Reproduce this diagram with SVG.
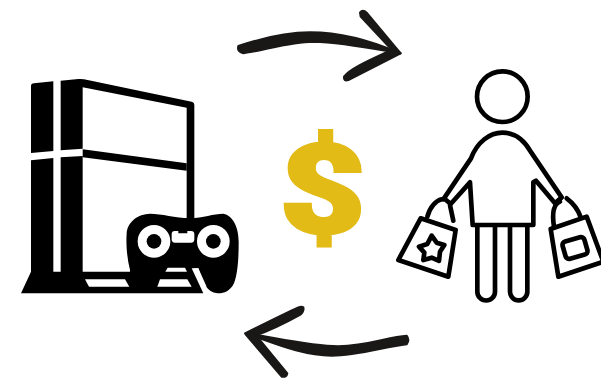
<svg xmlns="http://www.w3.org/2000/svg" width="601" height="378" viewBox="0 0 601 378">
<style>
.k{fill:#000}.w{fill:#fff}
.ln{fill:none;stroke:#000;stroke-width:14;stroke-linecap:round;stroke-linejoin:round}
.brush{fill:#1a1717;stroke:#1a1717;stroke-width:6;stroke-linejoin:round}
.money{font-family:"Roboto","Liberation Sans",sans-serif;font-weight:900;font-size:124px;fill:#e3bb17;stroke:#e3bb17;stroke-width:3;text-anchor:middle}
</style>
<rect width="601" height="378" fill="#fff"/>
<g id="console" transform="translate(10,70) scale(.33333)">
<path class="k" d="M72,40L130,34V243L63,249V48Q63,41 72,40Z"/>
<path class="k" d="M152,32L205,27Q212,26 222,28L545,95Q553,97 553,104V445H530V113L218,52V236L152,241Z"/>
<path class="k" d="M218,238L530,280V302L218,262Z"/>
<path class="k" d="M63,271L130,264V605H152V262L218,258V605H360V670H33L63,605Z"/>
<path class="k" d="M350,490C352,455 385,432 420,431C455,431 495,444 540,444C580,444 610,431 640,431C668,436 686,470 686,515C686,560 684,610 672,640C660,665 640,671 622,670C590,666 580,640 565,595H545L580,670H360V600C350,560 348,520 350,490Z"/>
<circle class="w" cx="432" cy="514" r="49"/><circle class="k" cx="432" cy="514" r="22"/>
<circle class="w" cx="610" cy="514" r="49"/><circle class="k" cx="610" cy="514" r="22"/>
<path class="w" d="M494,483H505V490H532V483H543Q553,483 553,493V508Q553,518 543,518H495Q485,518 485,508V493Q485,483 494,483Z"/>
<path class="w" d="M473,593H525L531,605H466Z"/>
<path class="w" d="M225,628H345L358,650H237Z"/>
<path class="w" d="M450,628H532L545,650H442Z"/>
<path class="w" d="M552,595H565L590,650L577,648Z"/>
</g>
<g id="shopper" transform="translate(390,60) scale(.33333)">
<circle class="ln" cx="337" cy="110" r="76"/>
<path class="ln" d="M160,418L243,295C262,245 300,218 337,218C375,218 402,240 422,275L515,412"/>
<path class="ln" d="M168,420L182,432L240,367L248,495H430V367L438,362L495,430L512,415"/>
<path class="ln" d="M262,500V695A26.500,26.500 0 0 0 315,695V500M360,500V695A26,26 0 0 0 412,695V500"/>
<path class="ln" d="M112,470C120,440 138,422 155,418M190,482L180,436"/>
<path class="ln" d="M92,475L197,510L175,650L25,600Z"/>
<path class="ln" d="M125,527L140,548L163,555L150,575L147,603L125,593L100,600L103,578L87,560L112,552Z"/>
<path class="ln" d="M492,500C485,455 492,432 510,425M530,415C550,430 565,450 572,472"/>
<path class="ln" d="M482,507L590,470L640,605L505,650Z"/>
<rect class="ln" x="521" y="537" width="68" height="54" rx="11" transform="rotate(-16 555 564)"/>
</g>
<g id="dollar"><text class="money" transform="translate(322.500,233) scale(1.2,1)">$</text></g>
<g id="connectors">
<g transform="translate(230,0) scale(.33333)">
<path class="brush" d="M25,138C100,113 180,97 240,97C340,97 430,125 510,160C440,148 340,127 250,125C180,125 100,152 40,160Q20,155 25,138Z"/>
<path class="brush" d="M390,38Q398,26 410,38L512,160L495,160L392,50Z"/>
<path class="brush" d="M512,160L355,240Q340,245 342,230C360,205 420,180 495,145Z"/>
</g>
<g transform="translate(235,295) scale(.33333)">
<path class="brush" d="M515,122C460,125 400,152 310,154C230,154 130,130 35,115L60,125C130,150 210,182 290,182C370,182 450,155 515,148Q525,135 515,122Z"/>
<path class="brush" d="M205,37Q208,50 195,60C150,85 100,110 45,128L30,115C90,85 150,55 190,37Q200,33 205,37Z"/>
<path class="brush" d="M32,118L62,120L157,235Q155,248 140,245L42,130Z"/>
</g>
</g>
</svg>
